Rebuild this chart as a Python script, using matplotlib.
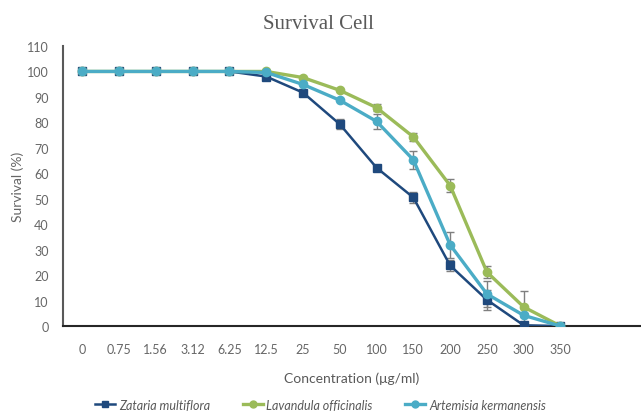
import matplotlib
matplotlib.use("Agg")
import matplotlib.pyplot as plt
from matplotlib.lines import Line2D

categories = ["0", "0.75", "1.56", "3.12", "6.25", "12.5", "25", "50", "100", "150", "200", "250", "300", "350"]
zataria = [100, 100, 100, 100, 100, 98, 91.7, 79.3, 62.2, 50.5, 23.8, 10.3, 0.3, 0]
zataria_err = [0, 0, 0, 0, 0, 0, 0, 2, 0, 2, 2, 4, 0, 0]
lavandula = [100, 100, 100, 100, 100, 100, 97.6, 92.6, 85.8, 74.3, 55.2, 21.2, 7.5, 0]
lavandula_err = [0, 0, 0, 0, 0, 0, 0, 0, 1.5, 1.5, 2.5, 2.5, 6.3, 0]
artemisia = [100, 100, 100, 100, 100, 99.6, 94.9, 88.7, 80.4, 65.3, 31.9, 12.6, 4.2, 0]
artemisia_err = [0, 0, 0, 0, 0, 0, 0, 0, 3, 3.5, 5.2, 5, 0.8, 0]
yticks = list(range(0, 111, 10))

plt.rcParams['font.family'] = ['Lato', 'DejaVu Sans']
fig = plt.figure(figsize=(6.41, 4.14), dpi=100)
ax = fig.add_axes([0.0978, 0.21, 0.9, 0.6765])

x = list(range(len(categories)))
series = [
    (zataria, zataria_err, "#1F497D", "s", 1.8, 6, "Zataria multiflora"),
    (lavandula, lavandula_err, "#9BBB59", "o", 2.4, 6, "Lavandula officinalis"),
    (artemisia, artemisia_err, "#4BACC6", "o", 2.4, 6, "Artemisia kermanensis"),
]
handles = []
for vals, err, col, mk, lw, ms, lab in series:
    ax.errorbar(x, vals, yerr=err, fmt='none', ecolor='#7f7f7f', elinewidth=1, capsize=3, capthick=1, zorder=2)
for vals, err, col, mk, lw, ms, lab in series:
    ax.plot(x, vals, color=col, lw=lw, marker=mk, ms=ms, zorder=3)
    handles.append(Line2D([], [], color=col, lw=lw, marker=mk, ms=ms - 1, label=lab))

ax.set_xlim(-0.53, 15.15)
ax.set_ylim(0, 110)
ax.set_xticks(x)
ax.set_xticklabels(categories)
ax.set_yticks(yticks)
ax.tick_params(axis='both', length=0, labelsize=9, colors='#666666', pad=12)
ax.tick_params(axis='y', pad=10)
for s in ['top', 'right']:
    ax.spines[s].set_visible(False)
ax.spines['left'].set_color('#595959')
ax.spines['left'].set_linewidth(1.5)
ax.spines['bottom'].set_color('#262626')
ax.spines['bottom'].set_linewidth(1.5)

ax.set_xlabel("Concentration (μg/ml)", fontsize=10, color='#595959', labelpad=12)
ax.set_ylabel("Survival (%)", fontsize=10, color='#666666', labelpad=2)
fig.text(0.497, 0.94, "Survival Cell", fontsize=15, color='#595959',
         family=['Liberation Serif', 'DejaVu Serif'], ha='center', va='center')

leg = fig.legend(handles=handles, loc='center', bbox_to_anchor=(0.5, 0.02), ncol=3, frameon=False,
                 prop={'style': 'italic', 'size': 9}, handlelength=1.6, columnspacing=2.6, handletextpad=0.3)
for t in leg.get_texts():
    t.set_color('#595959')

fig.savefig("out.png", dpi=100)
